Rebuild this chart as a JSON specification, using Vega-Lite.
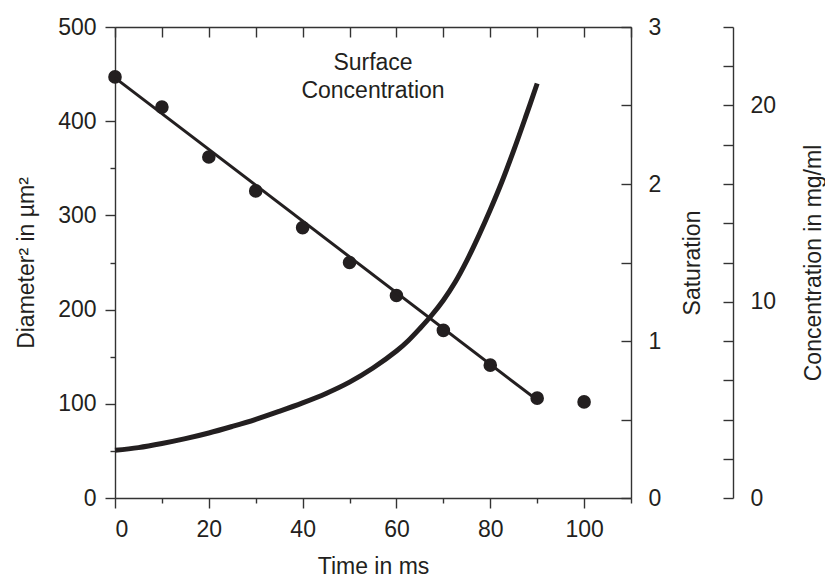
{
  "$schema": "https://vega.github.io/schema/vega-lite/v6.json",
  "width": 516,
  "height": 471,
  "autosize": {"type": "none"},
  "padding": {"left": 115, "top": 27, "right": 194, "bottom": 79},
  "background": "white",
  "config": {
    "font": "Liberation Sans",
    "view": {"stroke": null},
    "axis": {
      "grid": false,
      "labelFont": "Liberation Sans",
      "titleFont": "Liberation Sans",
      "labelFontSize": 23,
      "titleFontSize": 23,
      "titleFontWeight": "normal",
      "labelColor": "#231f20",
      "titleColor": "#231f20",
      "domainColor": "#333333",
      "tickColor": "#333333",
      "domainWidth": 1.4,
      "tickWidth": 1.4
    }
  },
  "datasets": {
    "points": [
      {"t": 0, "d": 447},
      {"t": 10, "d": 415},
      {"t": 20, "d": 362},
      {"t": 30, "d": 326},
      {"t": 40, "d": 287},
      {"t": 50, "d": 250},
      {"t": 60, "d": 215},
      {"t": 70, "d": 178},
      {"t": 80, "d": 141},
      {"t": 90, "d": 106},
      {"t": 100, "d": 102}
    ],
    "fit": [
      {"t": 0, "d": 446},
      {"t": 90, "d": 104}
    ],
    "labels": [
      {"text": "Surface\nConcentration"}
    ],
    "curve": [
      {"t": 0, "s": 0.304, "c": 2.43},
      {"t": 5, "s": 0.321, "c": 2.57},
      {"t": 10, "s": 0.347, "c": 2.77},
      {"t": 15, "s": 0.378, "c": 3.02},
      {"t": 20, "s": 0.414, "c": 3.31},
      {"t": 25, "s": 0.456, "c": 3.65},
      {"t": 30, "s": 0.501, "c": 4.01},
      {"t": 35, "s": 0.552, "c": 4.42},
      {"t": 40, "s": 0.606, "c": 4.85},
      {"t": 45, "s": 0.666, "c": 5.33},
      {"t": 50, "s": 0.738, "c": 5.9},
      {"t": 55, "s": 0.828, "c": 6.62},
      {"t": 60, "s": 0.936, "c": 7.49},
      {"t": 62.5, "s": 1.002, "c": 8.02},
      {"t": 65, "s": 1.08, "c": 8.64},
      {"t": 67.5, "s": 1.164, "c": 9.31},
      {"t": 70, "s": 1.26, "c": 10.08},
      {"t": 72.5, "s": 1.374, "c": 10.99},
      {"t": 75, "s": 1.512, "c": 12.1},
      {"t": 77.5, "s": 1.668, "c": 13.34},
      {"t": 80, "s": 1.836, "c": 14.69},
      {"t": 82.5, "s": 2.016, "c": 16.13},
      {"t": 85, "s": 2.214, "c": 17.71},
      {"t": 87.5, "s": 2.424, "c": 19.39},
      {"t": 90, "s": 2.64, "c": 21.12}
    ]
  },
  "resolve": {
    "scale": {"x": "independent", "y": "independent"},
    "axis": {"x": "independent", "y": "independent"}
  },
  "layer": [
    {
      "data": {"name": "points"},
      "mark": {"type": "circle", "size": 185, "opacity": 1, "color": "#231f20"},
      "encoding": {
        "x": {
          "field": "t", "type": "quantitative",
          "scale": {"domain": [0, 110], "nice": false, "zero": false},
          "axis": {"orient": "bottom", "values": [0, 20, 40, 60, 80, 100], "tickSize": 10, "labelPadding": 10, "title": "Time in ms", "titlePadding": 14}
        },
        "y": {
          "field": "d", "type": "quantitative",
          "scale": {"domain": [0, 500], "nice": false},
          "axis": {"orient": "left", "values": [0, 100, 200, 300, 400, 500], "tickSize": 10, "labelPadding": 9, "title": "Diameter² in µm²", "titlePadding": 19}
        }
      }
    },
    {
      "data": {"name": "fit"},
      "mark": {"type": "line", "color": "#231f20", "strokeWidth": 3},
      "encoding": {
        "x": {
          "field": "t", "type": "quantitative",
          "scale": {"domain": [0, 110], "nice": false, "zero": false},
          "axis": {"orient": "bottom", "values": [10, 30, 50, 70, 90, 110], "tickSize": 5, "labels": false, "domain": false, "title": null}
        },
        "y": {
          "field": "d", "type": "quantitative",
          "scale": {"domain": [0, 500], "nice": false},
          "axis": {"orient": "left", "values": [50, 150, 250, 350, 450], "tickSize": 5, "labels": false, "domain": false, "title": null}
        }
      }
    },
    {
      "data": {"name": "curve"},
      "mark": {"type": "line", "color": "#231f20", "strokeWidth": 5, "interpolate": "catmull-rom"},
      "encoding": {
        "x": {
          "field": "t", "type": "quantitative",
          "scale": {"domain": [0, 110], "nice": false, "zero": false},
          "axis": {"orient": "top", "values": [0, 10, 20, 30, 40, 50, 60, 70, 80, 90, 100, 110], "tickSize": -10, "labels": false, "domain": true, "title": null}
        },
        "y": {
          "field": "s", "type": "quantitative",
          "scale": {"domain": [0, 3], "nice": false},
          "axis": {"orient": "right", "values": [0, 0.5, 1, 1.5, 2, 2.5, 3], "format": ".0f", "tickSize": -10, "labelPadding": 27, "labelExpr": "datum.value % 1 === 0 ? datum.label : ''", "title": "Saturation", "titleAngle": 270, "titleBaseline": "top", "titlePadding": 21}
        }
      }
    },
    {
      "data": {"name": "curve"},
      "mark": {"type": "line", "strokeOpacity": 0},
      "encoding": {
        "x": {
          "field": "t", "type": "quantitative",
          "scale": {"domain": [0, 110], "nice": false, "zero": false},
          "axis": null
        },
        "y": {
          "field": "c", "type": "quantitative",
          "scale": {"domain": [0, 24], "nice": false},
          "axis": {"orient": "right", "offset": 102, "values": [0, 2, 4, 6, 8, 10, 12, 14, 16, 18, 20, 22, 24], "tickSize": -10, "labelPadding": 27, "labelExpr": "datum.value % 10 === 0 ? datum.label : ''", "title": "Concentration in mg/ml", "titleAngle": 270, "titleBaseline": "top", "titlePadding": 27}
        }
      }
    },
    {
      "data": {"name": "labels"},
      "mark": {"type": "text", "lineBreak": "\n", "fontSize": 23, "font": "Liberation Sans", "align": "center", "baseline": "alphabetic", "lineHeight": 28, "color": "#231f20"},
      "encoding": {
        "text": {"field": "text"},
        "x": {"datum": 55, "type": "quantitative", "scale": {"domain": [0, 110], "nice": false, "zero": false}, "axis": null},
        "y": {"datum": 454, "type": "quantitative", "scale": {"domain": [0, 500], "nice": false}, "axis": null}
      }
    }
  ]
}
